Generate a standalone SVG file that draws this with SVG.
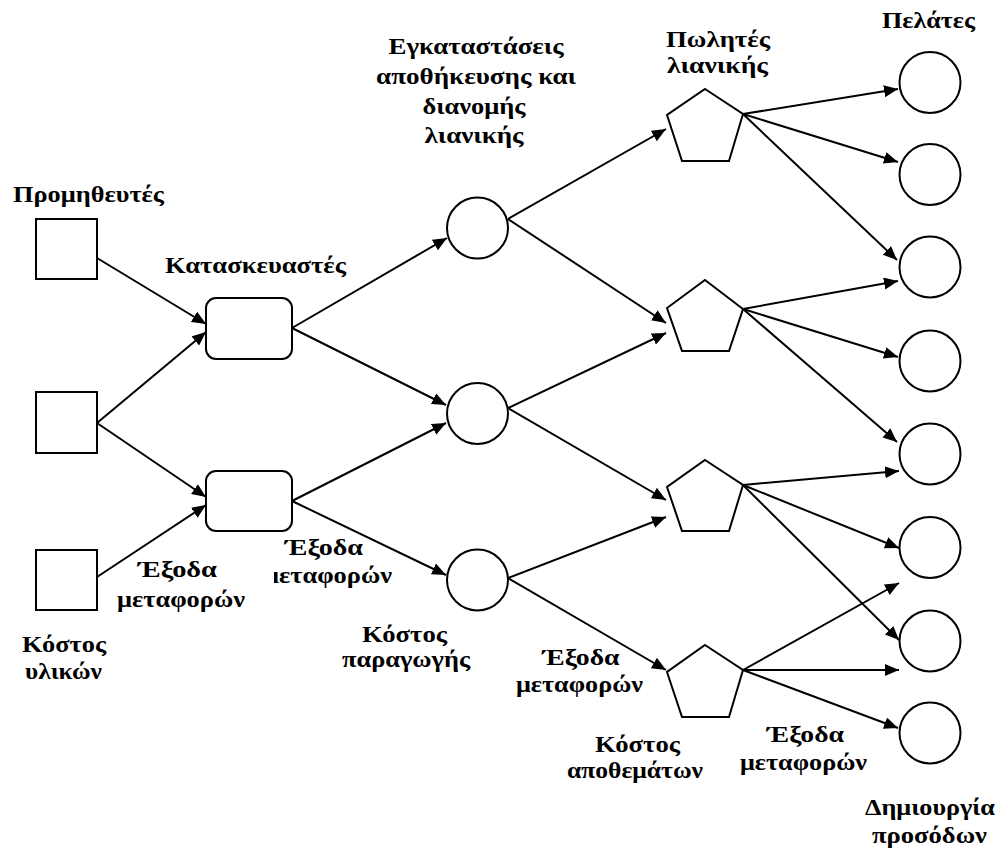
<svg xmlns="http://www.w3.org/2000/svg" width="1000" height="850" viewBox="0 0 1000 850">
<style>
.n{fill:#fff;stroke:#000;stroke-width:2}
.c line{stroke:#000;stroke-width:2;marker-end:url(#ah)}
</style>
<defs>
<marker id="ah" markerUnits="userSpaceOnUse" markerWidth="15" markerHeight="13" refX="14" refY="6" orient="auto">
<path d="M0,0 L14,6 L0,12 z" fill="#000"/>
</marker>
<clipPath id="clipMid"><rect x="274" y="560" width="200" height="40"/></clipPath>
</defs>
<rect width="1000" height="850" fill="#fff"/>
<g id="connectors" class="c">
<line x1="97" y1="258" x2="206" y2="324"/>
<line x1="97" y1="423" x2="206" y2="332"/>
<line x1="97" y1="423" x2="206" y2="497"/>
<line x1="97" y1="577" x2="206" y2="505"/>
<line x1="292" y1="328" x2="447" y2="238"/>
<line x1="292" y1="328" x2="446" y2="405"/>
<line x1="292" y1="501" x2="446" y2="423"/>
<line x1="292" y1="501" x2="446" y2="575"/>
<line x1="508" y1="219" x2="666" y2="129"/>
<line x1="508" y1="219" x2="666" y2="323"/>
<line x1="508" y1="408" x2="666" y2="333"/>
<line x1="508" y1="408" x2="666" y2="500"/>
<line x1="508" y1="578" x2="666" y2="517"/>
<line x1="508" y1="578" x2="666" y2="670"/>
<line x1="743" y1="114" x2="898" y2="89"/>
<line x1="743" y1="114" x2="898" y2="162"/>
<line x1="743" y1="114" x2="897" y2="260"/>
<line x1="743" y1="309" x2="898" y2="281"/>
<line x1="743" y1="309" x2="898" y2="357"/>
<line x1="743" y1="309" x2="897" y2="442"/>
<line x1="743" y1="485" x2="899" y2="471"/>
<line x1="743" y1="485" x2="899" y2="548"/>
<line x1="743" y1="485" x2="899" y2="640"/>
<line x1="743" y1="670" x2="899" y2="583"/>
<line x1="743" y1="670" x2="899" y2="670"/>
<line x1="743" y1="670" x2="898" y2="728"/>
</g>
<g id="supplier1"><rect class="n" x="36" y="219" width="61" height="60"/></g>
<g id="supplier2"><rect class="n" x="36" y="392" width="61" height="61"/></g>
<g id="supplier3"><rect class="n" x="36" y="550" width="61" height="60"/></g>
<g id="manufacturer1"><rect class="n" x="206" y="298" width="86" height="61" rx="10"/></g>
<g id="manufacturer2"><rect class="n" x="206" y="471" width="86" height="60" rx="10"/></g>
<g id="dc1"><circle class="n" cx="477.5" cy="228" r="30.5"/></g>
<g id="dc2"><circle class="n" cx="477.5" cy="413.5" r="30.5"/></g>
<g id="dc3"><circle class="n" cx="477.5" cy="580" r="30.5"/></g>
<g id="retailer1"><polygon class="n" points="705,89 743,114 729,161 682,161 667,115"/></g>
<g id="retailer2"><polygon class="n" points="705,280 743,309 729,351 682,351 667,308"/></g>
<g id="retailer3"><polygon class="n" points="705,460 743,485 729,531 682,531 667,487"/></g>
<g id="retailer4"><polygon class="n" points="705,645 743,670 729,717 682,717 667,672"/></g>
<g id="customer1"><circle class="n" cx="930" cy="82.5" r="30.5"/></g>
<g id="customer2"><circle class="n" cx="930" cy="174.5" r="30.5"/></g>
<g id="customer3"><circle class="n" cx="930" cy="267" r="30.5"/></g>
<g id="customer4"><circle class="n" cx="930" cy="361" r="30.5"/></g>
<g id="customer5"><circle class="n" cx="930" cy="454" r="30.5"/></g>
<g id="customer6"><circle class="n" cx="930" cy="547.5" r="30.5"/></g>
<g id="customer7"><circle class="n" cx="930" cy="641" r="30.5"/></g>
<g id="customer8"><circle class="n" cx="930" cy="733" r="30.5"/></g>
<g id="labels" font-family="'Liberation Serif', 'Times New Roman', serif" font-weight="bold" font-size="24" text-anchor="middle" fill="#000">
<text x="88.5" y="202" textLength="151" lengthAdjust="spacingAndGlyphs">Προμηθευτές</text>
<text x="255.5" y="273" textLength="181" lengthAdjust="spacingAndGlyphs">Κατασκευαστές</text>
<text x="476" y="54" textLength="175" lengthAdjust="spacingAndGlyphs">Εγκαταστάσεις</text>
<text x="476" y="84" textLength="200" lengthAdjust="spacingAndGlyphs">αποθήκευσης και</text>
<text x="474" y="114" textLength="103" lengthAdjust="spacingAndGlyphs">διανομής</text>
<text x="474" y="143" textLength="99" lengthAdjust="spacingAndGlyphs">λιανικής</text>
<text x="718" y="47" textLength="104" lengthAdjust="spacingAndGlyphs">Πωλητές</text>
<text x="717.5" y="73" textLength="101" lengthAdjust="spacingAndGlyphs">λιανικής</text>
<text x="928.5" y="28" textLength="93" lengthAdjust="spacingAndGlyphs">Πελάτες</text>
<text x="177.5" y="577" textLength="79" lengthAdjust="spacingAndGlyphs">Έξοδα</text>
<text x="181" y="607" textLength="128" lengthAdjust="spacingAndGlyphs">μεταφορών</text>
<text x="64" y="652" textLength="84" lengthAdjust="spacingAndGlyphs">Κόστος</text>
<text x="63.5" y="679" textLength="77" lengthAdjust="spacingAndGlyphs">υλικών</text>
<text x="324" y="555" textLength="78" lengthAdjust="spacingAndGlyphs">Έξοδα</text>
<text x="328" y="583" textLength="128" lengthAdjust="spacingAndGlyphs" clip-path="url(#clipMid)">μεταφορών</text>
<text x="404.5" y="642" textLength="85" lengthAdjust="spacingAndGlyphs">Κόστος</text>
<text x="406" y="667" textLength="128" lengthAdjust="spacingAndGlyphs">παραγωγής</text>
<text x="581" y="665" textLength="77" lengthAdjust="spacingAndGlyphs">Έξοδα</text>
<text x="579.5" y="692" textLength="127" lengthAdjust="spacingAndGlyphs">μεταφορών</text>
<text x="637.5" y="752" textLength="85" lengthAdjust="spacingAndGlyphs">Κόστος</text>
<text x="635" y="778" textLength="136" lengthAdjust="spacingAndGlyphs">αποθεμάτων</text>
<text x="805.5" y="742" textLength="77" lengthAdjust="spacingAndGlyphs">Έξοδα</text>
<text x="803.5" y="770" textLength="127" lengthAdjust="spacingAndGlyphs">μεταφορών</text>
<text x="930" y="815" textLength="130" lengthAdjust="spacingAndGlyphs">Δημιουργία</text>
<text x="929.5" y="843" textLength="115" lengthAdjust="spacingAndGlyphs">προσόδων</text>
</g>
</svg>
